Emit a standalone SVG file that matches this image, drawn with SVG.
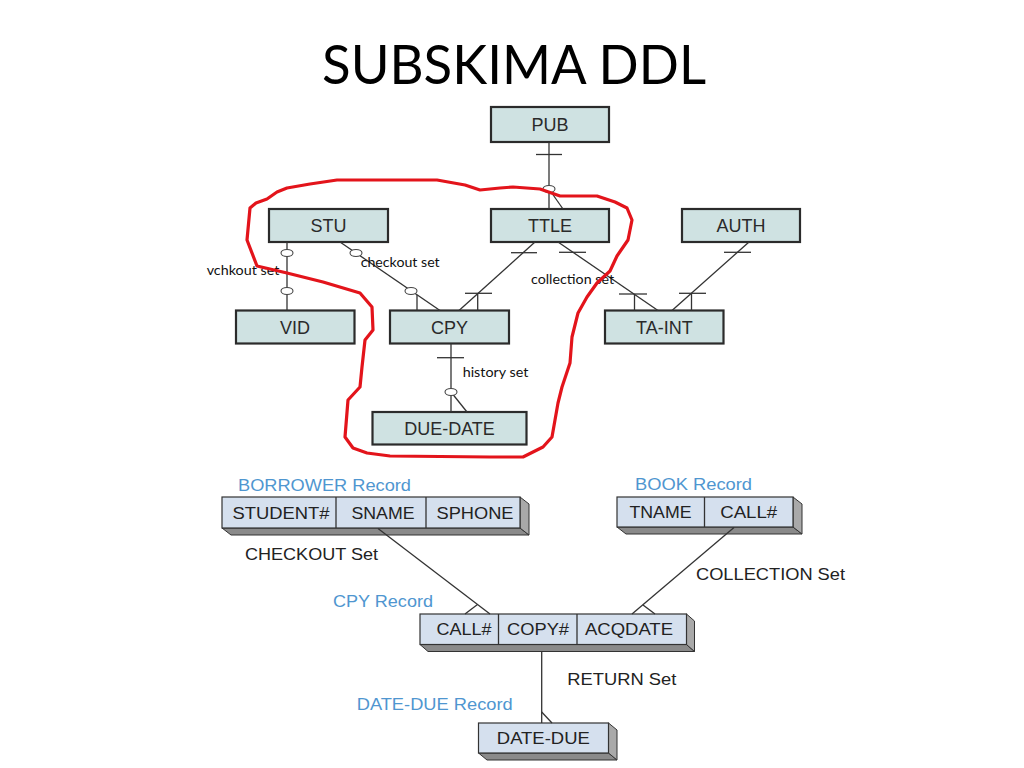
<svg xmlns="http://www.w3.org/2000/svg" width="1024" height="768" viewBox="0 0 1024 768">
<style>
.box{fill:#cfe2e2;stroke:#2b2b2b;stroke-width:2.2}
.bl{font-family:"Liberation Sans",Arial,sans-serif;font-size:18px;fill:#2a2a2a;text-anchor:middle}
.ln{stroke:#333;stroke-width:1.3;fill:none}
.ov{fill:#fff;stroke:#444;stroke-width:1.1}
.sl{font-family:Lato,"Liberation Sans",sans-serif;font-size:13.5px;fill:#111}
.rf{fill:#d5e0ee;stroke:#333;stroke-width:1.2}
.bot{fill:#8a8a8a;stroke:#333;stroke-width:1}
.side{fill:#a9a9a9;stroke:#333;stroke-width:1}
.ct{font-family:"Liberation Sans",Arial,sans-serif;font-size:17px;fill:#222;text-anchor:middle}
.rl{font-family:"Liberation Sans",Arial,sans-serif;font-size:17px;fill:#4f96d0}
.sn{font-family:"Liberation Sans",Arial,sans-serif;font-size:17px;fill:#222}
</style>
<rect width="1024" height="768" fill="#fff"/>
<text x="322" y="84" font-family="Lato,'Liberation Sans',sans-serif" font-size="54" fill="#000" textLength="384" lengthAdjust="spacingAndGlyphs">SUBSKIMA DDL</text>

<g id="pub"><rect class="box" x="491" y="107" width="118" height="35"/><text class="bl" x="550" y="131">PUB</text></g>
<g id="stu"><rect class="box" x="269" y="209" width="119" height="33"/><text class="bl" x="328.5" y="232">STU</text></g>
<g id="ttle"><rect class="box" x="491" y="209" width="118" height="33"/><text class="bl" x="550" y="232">TTLE</text></g>
<g id="auth"><rect class="box" x="682" y="209" width="118" height="33"/><text class="bl" x="741" y="232">AUTH</text></g>
<g id="vid"><rect class="box" x="236" y="310.5" width="118.5" height="33"/><text class="bl" x="295" y="334">VID</text></g>
<g id="cpy"><rect class="box" x="390" y="310.5" width="119" height="33"/><text class="bl" x="449.5" y="334">CPY</text></g>
<g id="ta-int"><rect class="box" x="605" y="310.5" width="118.5" height="33"/><text class="bl" x="664.3" y="334">TA-INT</text></g>
<g id="due-date"><rect class="box" x="372.5" y="412" width="154" height="32.5"/><text class="bl" x="449.5" y="435">DUE-DATE</text></g>

<g id="borrower-record">
<polygon class="bot" points="222,528 231,535 529,535 520,528"/>
<polygon class="side" points="520,497 529,504 529,535 520,528"/>
<rect class="rf" x="222" y="497" width="298" height="31"/>
<line class="ln" x1="336" y1="497" x2="336" y2="528"/><line class="ln" x1="426" y1="497" x2="426" y2="528"/>
<text class="ct" x="281" y="518.5" textLength="97" lengthAdjust="spacingAndGlyphs">STUDENT#</text><text class="ct" x="383" y="518.5" textLength="63" lengthAdjust="spacingAndGlyphs">SNAME</text><text class="ct" x="475" y="518.5" textLength="77" lengthAdjust="spacingAndGlyphs">SPHONE</text>
<text class="rl" x="238" y="491" textLength="173" lengthAdjust="spacingAndGlyphs">BORROWER Record</text>
</g>
<g id="book-record">
<polygon class="bot" points="617,527 626,534 802,534 793,527"/>
<polygon class="side" points="793,497 802,504 802,534 793,527"/>
<rect class="rf" x="617" y="497" width="176" height="30"/>
<line class="ln" x1="704.5" y1="497" x2="704.5" y2="527"/>
<text class="ct" x="660.5" y="517.5" textLength="62" lengthAdjust="spacingAndGlyphs">TNAME</text><text class="ct" x="748.7" y="517.5" textLength="57" lengthAdjust="spacingAndGlyphs">CALL#</text>
<text class="rl" x="635" y="490" textLength="117" lengthAdjust="spacingAndGlyphs">BOOK Record</text>
</g>
<g id="cpy-record">
<polygon class="bot" points="420,644.5 428,651.5 694.5,651.5 686.5,644.5"/>
<polygon class="side" points="686.5,614 694.5,621 694.5,651.5 686.5,644.5"/>
<rect class="rf" x="420" y="614" width="266.5" height="30.5"/>
<line class="ln" x1="498.5" y1="614" x2="498.5" y2="644.5"/><line class="ln" x1="577" y1="614" x2="577" y2="644.5"/>
<text class="ct" x="464" y="635" textLength="55" lengthAdjust="spacingAndGlyphs">CALL#</text><text class="ct" x="538" y="635" textLength="62" lengthAdjust="spacingAndGlyphs">COPY#</text><text class="ct" x="629" y="635" textLength="88" lengthAdjust="spacingAndGlyphs">ACQDATE</text>
<text class="rl" x="333" y="607" textLength="100" lengthAdjust="spacingAndGlyphs">CPY Record</text>
</g>
<g id="date-due-record">
<polygon class="bot" points="478.5,753 487,760 617,760 608.5,753"/>
<polygon class="side" points="608.5,723 617,730 617,760 608.5,753"/>
<rect class="rf" x="478.5" y="723" width="130" height="30"/>
<text class="ct" x="543.3" y="743.5" textLength="93" lengthAdjust="spacingAndGlyphs">DATE-DUE</text>
<text class="rl" x="356.7" y="709.5" textLength="156" lengthAdjust="spacingAndGlyphs">DATE-DUE Record</text>
</g>

<g id="connectors">
<line class="ln" x1="549" y1="142" x2="549" y2="209"/>
<line class="ln" x1="536" y1="154.5" x2="562" y2="154.5"/>
<line class="ln" x1="549" y1="189" x2="563" y2="209"/>
<ellipse class="ov" cx="549" cy="189" rx="6" ry="3.5"/>
<line class="ln" x1="287" y1="242" x2="287" y2="310.5"/>
<ellipse class="ov" cx="287" cy="253" rx="6" ry="3.5"/>
<ellipse class="ov" cx="287" cy="291" rx="6" ry="3.5"/>
<text class="sl" x="206.7" y="275" textLength="72.6" lengthAdjust="spacingAndGlyphs">vchkout set</text>
<line class="ln" x1="340" y1="242" x2="440" y2="310.5"/>
<line class="ln" x1="417" y1="295" x2="417" y2="310.5"/>
<ellipse class="ov" cx="356" cy="253" rx="6" ry="3.5"/>
<ellipse class="ov" cx="411" cy="291" rx="6" ry="3.5"/>
<text class="sl" x="360.7" y="266.7" textLength="79" lengthAdjust="spacingAndGlyphs">checkout set</text>
<line class="ln" x1="535" y1="242" x2="459" y2="310.5"/>
<line class="ln" x1="511" y1="252.7" x2="537" y2="252.7"/>
<line class="ln" x1="465" y1="293.3" x2="492" y2="293.3"/>
<line class="ln" x1="477.7" y1="293.3" x2="477.7" y2="310.5"/>
<line class="ln" x1="558" y1="242" x2="658" y2="310.5"/>
<line class="ln" x1="559" y1="252.3" x2="586" y2="252.3"/>
<line class="ln" x1="619" y1="294" x2="647" y2="294"/>
<line class="ln" x1="634.5" y1="294" x2="634.5" y2="310.5"/>
<text class="sl" x="531" y="284" textLength="83" lengthAdjust="spacingAndGlyphs">collection set</text>
<line class="ln" x1="749" y1="242" x2="672" y2="310.5"/>
<line class="ln" x1="724" y1="252.3" x2="751" y2="252.3"/>
<line class="ln" x1="679" y1="293.3" x2="706" y2="293.3"/>
<line class="ln" x1="691.5" y1="293.3" x2="691.5" y2="310.5"/>
<line class="ln" x1="451" y1="343.5" x2="451" y2="412"/>
<line class="ln" x1="437" y1="357.7" x2="464" y2="357.7"/>
<line class="ln" x1="451" y1="392" x2="467" y2="412"/>
<ellipse class="ov" cx="451" cy="392" rx="6" ry="3.5"/>
<text class="sl" x="462.7" y="377.3" textLength="65.6" lengthAdjust="spacingAndGlyphs">history set</text>
<line class="ln" x1="378" y1="528.5" x2="490" y2="614"/>
<line class="ln" x1="477.5" y1="604.5" x2="465" y2="614"/>
<text class="sn" x="245" y="560" textLength="133" lengthAdjust="spacingAndGlyphs">CHECKOUT Set</text>
<line class="ln" x1="734" y1="527.5" x2="632" y2="614"/>
<line class="ln" x1="643" y1="605" x2="655" y2="614"/>
<text class="sn" x="696" y="580" textLength="149" lengthAdjust="spacingAndGlyphs">COLLECTION Set</text>
<line class="ln" x1="541.7" y1="651.5" x2="541.7" y2="723"/>
<line class="ln" x1="541.7" y1="712" x2="552" y2="723"/>
<text class="sn" x="567.3" y="685" textLength="109" lengthAdjust="spacingAndGlyphs">RETURN Set</text>
</g>

<path id="red-outline" fill="none" stroke="#e3141b" stroke-width="3.2" stroke-linejoin="round" stroke-linecap="round"
d="M250,208 L256,203 L267,199 L277,192 L287,188 L310,184 L337,180 L380,180 L437,180 L465,185 L480,190 L500,188 L513,187 L540,189 L560,196 L597,196 L615,202 L627,208 L632,220 L628,240 L617,256 L610,271 L597,283 L587,297 L578,313 L572,337 L570,363 L562,387 L558,403 L552,437 L543,447 L523,457 L490,457 L390,456 L367,453 L353,448 L345,437 L348,400 L360,387 L362,367 L365,340 L373,330 L372,307 L360,293 L323,282 L287,273 L257,266 L247,240 Z"/>
</svg>
